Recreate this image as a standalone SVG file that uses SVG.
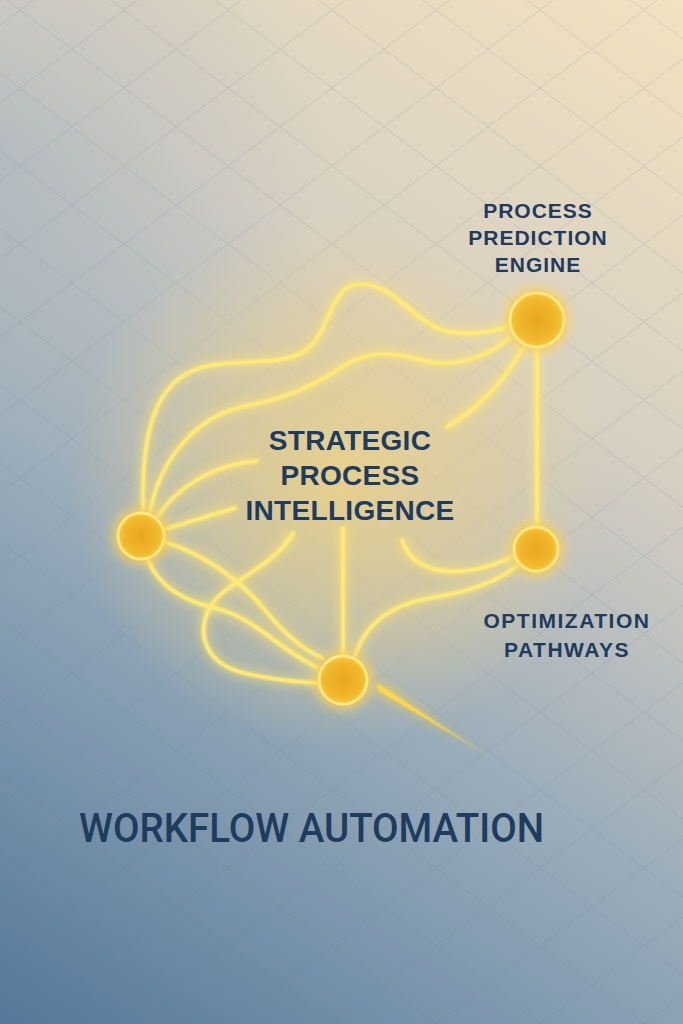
<svg xmlns="http://www.w3.org/2000/svg" width="683" height="1024" viewBox="0 0 683 1024">
<defs>
<style>
.wire{fill:none;stroke:#ffe978;stroke-width:2.6;stroke-linecap:round}
.node{fill:url(#nodeFill);stroke:#ffe67e;stroke-width:3}
.lbl{font-family:"Liberation Sans",Arial,sans-serif;font-weight:700;fill:#1f3b5e;text-anchor:middle}
.grid{stroke:#55728f;stroke-opacity:0.17;stroke-width:1;fill:none}
</style>
<linearGradient id="bg" gradientUnits="userSpaceOnUse" x1="683" y1="0" x2="0" y2="1024">
<stop offset="0" stop-color="#f3e2c0"/>
<stop offset="0.33" stop-color="#d6cfc2"/>
<stop offset="0.62" stop-color="#98abba"/>
<stop offset="1" stop-color="#55789a"/>
</linearGradient>
<radialGradient id="tl" gradientUnits="userSpaceOnUse" cx="0" cy="160" r="330">
<stop offset="0" stop-color="#a3b2bf" stop-opacity="0.5"/>
<stop offset="1" stop-color="#a3b2bf" stop-opacity="0"/>
</radialGradient>
<radialGradient id="halo" gradientUnits="userSpaceOnUse" cx="340" cy="480" r="270">
<stop offset="0" stop-color="#f8d77c" stop-opacity="0.75"/>
<stop offset="0.55" stop-color="#f4d58a" stop-opacity="0.45"/>
<stop offset="1" stop-color="#f0d79a" stop-opacity="0"/>
</radialGradient>
<radialGradient id="nodeFill" cx="0.5" cy="0.5" r="0.5">
<stop offset="0" stop-color="#e9a620"/>
<stop offset="0.75" stop-color="#f1b82e"/>
<stop offset="1" stop-color="#f7c840"/>
</radialGradient>
<linearGradient id="tailGrad" gradientUnits="userSpaceOnUse" x1="377" y1="687" x2="493" y2="758">
<stop offset="0" stop-color="#ffd84a" stop-opacity="1"/>
<stop offset="1" stop-color="#ffd84a" stop-opacity="0.1"/>
</linearGradient>
<pattern id="diam" patternUnits="userSpaceOnUse" width="104" height="78" x="20" y="10">
<path class="grid" d="M0,0 L104,78 M104,0 L0,78"/>
</pattern>
<filter id="neon" x="-10%" y="-10%" width="120%" height="120%">
<feGaussianBlur in="SourceGraphic" stdDeviation="6" result="b1"/>
<feGaussianBlur in="SourceGraphic" stdDeviation="1.8" result="b2"/>
<feMerge><feMergeNode in="b1"/><feMergeNode in="b1"/><feMergeNode in="b2"/><feMergeNode in="b2"/><feMergeNode in="SourceGraphic"/></feMerge>
</filter>
<filter id="nodeGlow" x="-60%" y="-60%" width="220%" height="220%">
<feGaussianBlur in="SourceGraphic" stdDeviation="7" result="b1"/>
<feMerge><feMergeNode in="b1"/><feMergeNode in="b1"/><feMergeNode in="SourceGraphic"/></feMerge>
</filter>
</defs>

<rect width="683" height="1024" fill="url(#bg)"/>
<rect width="683" height="1024" fill="url(#tl)"/>
<rect width="683" height="1024" fill="url(#diam)"/>
<ellipse cx="340" cy="480" rx="300" ry="275" fill="url(#halo)"/>

<g id="connectors" filter="url(#neon)">
<path class="wire" d="M143,510 C141,420 160,372 214,365 C255,359 292,366 312,345 C332,322 332,285 360,284 C395,284 412,321 445,331 C472,337 495,331 510,326"/>
<path class="wire" d="M150,512 C160,460 195,415 250,405 C290,398 320,382 345,365 C370,350 395,352 425,361 C455,368 485,358 510,338"/>
<path class="wire" d="M158,516 C175,490 210,465 257,461"/>
<path class="wire" d="M166,529 L235,508"/>
<path class="wire" d="M524,346 C505,380 480,408 447,427"/>
<path class="wire" d="M537,348 L537,527"/>
<path class="wire" d="M165,542 C205,555 240,580 265,610 C285,635 305,650 322,658"/>
<path class="wire" d="M148,560 C158,585 180,600 215,608 C255,618 280,650 318,668"/>
<path class="wire" d="M293,533 C275,565 235,578 215,600 C195,625 200,660 240,672 C270,680 300,682 318,683"/>
<path class="wire" d="M343,528 L343,655"/>
<path class="wire" d="M355,655 C365,625 390,605 430,598 C470,592 500,580 518,565"/>
<path class="wire" d="M402,540 C410,565 435,574 465,571 C485,569 500,562 514,556"/>
<path d="M377,684 L379,690 L493,759 Z" fill="url(#tailGrad)"/>
</g>

<g id="node-prediction" filter="url(#nodeGlow)"><circle class="node" cx="537" cy="320" r="27"/></g>
<g id="node-left" filter="url(#nodeGlow)"><circle class="node" cx="141" cy="536" r="23"/></g>
<g id="node-optimization" filter="url(#nodeGlow)"><circle class="node" cx="536" cy="549" r="22"/></g>
<g id="node-bottom" filter="url(#nodeGlow)"><circle class="node" cx="343" cy="680" r="24"/></g>

<g id="label-prediction" class="lbl" font-size="21" letter-spacing="1">
<text x="538" y="218">PROCESS</text>
<text x="538" y="245">PREDICTION</text>
<text x="538" y="272">ENGINE</text>
</g>
<g id="label-strategic" class="lbl" font-size="28" letter-spacing="0.3">
<text x="350" y="450">STRATEGIC</text>
<text x="350" y="485">PROCESS</text>
<text x="350" y="520">INTELLIGENCE</text>
</g>
<g id="label-optimization" class="lbl" font-size="21" letter-spacing="1.5">
<text x="567" y="628">OPTIMIZATION</text>
<text x="567" y="657">PATHWAYS</text>
</g>
<g id="label-workflow">
<text x="79" y="842" font-family="Roboto,'Liberation Sans',sans-serif" font-weight="500" font-size="40" fill="#1f3b5e" textLength="465" lengthAdjust="spacingAndGlyphs">WORKFLOW AUTOMATION</text>
</g>
</svg>
